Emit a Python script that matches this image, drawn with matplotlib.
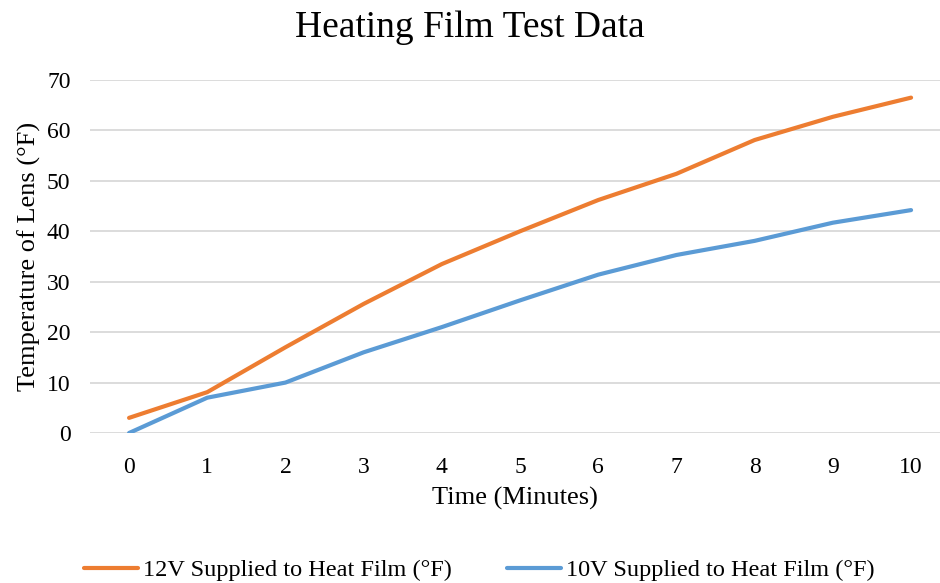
import numpy as np
import matplotlib.pyplot as plt

plt.rcParams['font.family'] = ['Liberation Serif', 'DejaVu Serif']

minutes = [0, 1, 2, 3, 4, 5, 6, 7, 8, 9, 10]
temp_12v = [3.0, 8.1, 17.0, 25.6, 33.5, 40.0, 46.2, 51.4, 58.1, 62.7, 66.5]
temp_10v = [0.0, 7.0, 10.0, 16.0, 21.0, 26.3, 31.4, 35.3, 38.1, 41.7, 44.2]

label_12v = "12V Supplied to Heat Film (°F)"
label_10v = "10V Supplied to Heat Film (°F)"

fig = plt.figure(figsize=(9.4, 5.83), dpi=100)
ax = fig.add_axes([0.0957, 0.2573, 0.9043, 0.6055])

ax.plot(minutes, temp_12v, color='#ED7D31', linewidth=3, label=label_12v, solid_capstyle='round')
ax.plot(minutes, temp_10v, color='#5B9BD5', linewidth=3, label=label_10v, solid_capstyle='round')

ax.set_xlim(-0.5, 10.37)
ax.set_ylim(0, 70)
ax.set_xticks(minutes)
ax.set_yticks(np.arange(0, 71, 10))
ax.grid(axis='y', color='#d9d9d9', linewidth=1.3)
ax.set_axisbelow(True)
for s in ax.spines.values():
    s.set_visible(False)
ax.tick_params(length=0, labelsize=17)
ax.tick_params(axis='x', pad=17)
ax.tick_params(axis='y', pad=14)

ax.set_xlabel("Time (Minutes)", fontsize=19, labelpad=7)
ax.set_ylabel("Temperature of Lens (°F)", fontsize=19, labelpad=4)
fig.text(0.5, 0.952, "Heating Film Test Data", fontsize=27, ha='center', va='center')

fig.legend(loc='center', bbox_to_anchor=(0.51, 0.022), ncol=2, frameon=False,
           fontsize=17.5, handlelength=2.2, handletextpad=0.2, columnspacing=2.3)

plt.savefig("out.png", dpi=100)
